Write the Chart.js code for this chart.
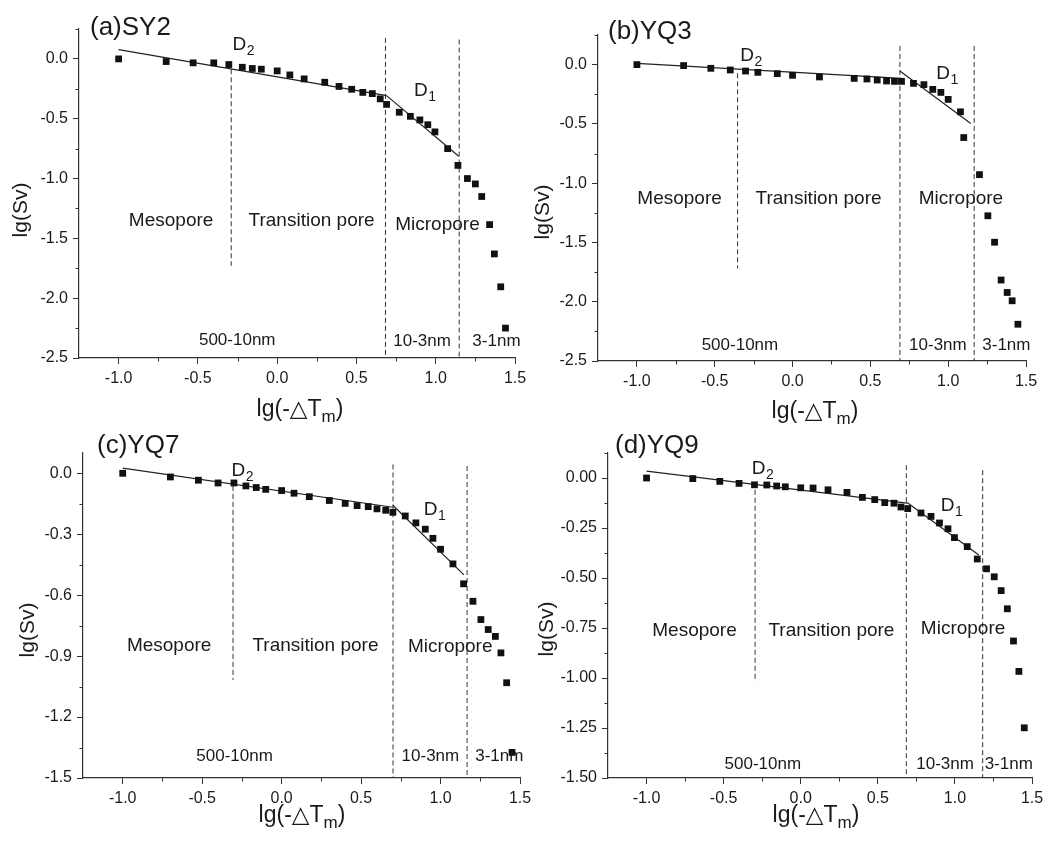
<!DOCTYPE html>
<html>
<head>
<meta charset="utf-8">
<script src="https://cdn.jsdelivr.net/npm/chart.js@4.4.1/dist/chart.umd.min.js"></script>
<style>
  html, body { margin:0; padding:0; background:#fff; }
  #wrap { position:relative; width:1055px; height:841px; background:#fff; }
  #wrap canvas { position:absolute; left:0; top:0; }
</style>
</head>
<body>
<div id="wrap">
  <canvas id="cA" width="1055" height="841"></canvas>
  <canvas id="cB" width="1055" height="841"></canvas>
  <canvas id="cC" width="1055" height="841"></canvas>
  <canvas id="cD" width="1055" height="841"></canvas>
</div>
<script>
// ---------------- DATA ----------------
const panelNames = ["(a)SY2", "(b)YQ3", "(c)YQ7", "(d)YQ9"];
const regionNames = ["Mesopore", "Transition pore", "Micropore"];
const sizeNames = ["500-10nm", "10-3nm", "3-1nm"];

const xTicks = [-1.0, -0.5, 0.0, 0.5, 1.0, 1.5];
const yTicksAB = [0.0, -0.5, -1.0, -1.5, -2.0, -2.5];
const yTicksC = [0.0, -0.3, -0.6, -0.9, -1.2, -1.5];
const yTicksD = [0.0, -0.25, -0.5, -0.75, -1.0, -1.25, -1.5];

// (a) SY2
const xA = [-1.0, -0.70, -0.53, -0.40, -0.305, -0.22, -0.157, -0.10, 0.0, 0.08, 0.17, 0.30, 0.39, 0.47, 0.54, 0.60, 0.65, 0.69, 0.77, 0.84, 0.90, 0.95, 0.995, 1.075, 1.14, 1.20, 1.25, 1.29, 1.34, 1.37, 1.41, 1.44];
const yA = [0.0, -0.022, -0.033, -0.033, -0.047, -0.07, -0.08, -0.086, -0.10, -0.134, -0.167, -0.195, -0.23, -0.254, -0.28, -0.29, -0.334, -0.38, -0.446, -0.48, -0.51, -0.55, -0.61, -0.75, -0.89, -1.00, -1.045, -1.15, -1.385, -1.63, -1.905, -2.25];
const fitA2 = [[-1.0, 0.078], [0.69, -0.307]];
const fitA1 = [[0.69, -0.307], [1.145, -0.814]];
const boundXA = [-0.29, 0.683, 1.148];
const boundTopA = [-0.02, 0.176, 0.162];
const boundBotA = [-1.73, -2.5, -2.5];

// (b) YQ3
const xB = [-1.0, -0.70, -0.525, -0.40, -0.302, -0.223, -0.098, 0.0, 0.173, 0.396, 0.478, 0.544, 0.604, 0.655, 0.70, 0.777, 0.844, 0.901, 0.953, 1.0, 1.079, 1.10, 1.201, 1.255, 1.298, 1.34, 1.379, 1.411, 1.448];
const yB = [0.0, -0.008, -0.031, -0.045, -0.054, -0.065, -0.076, -0.090, -0.104, -0.116, -0.121, -0.130, -0.138, -0.141, -0.141, -0.158, -0.169, -0.209, -0.234, -0.293, -0.398, -0.615, -0.928, -1.275, -1.498, -1.817, -1.922, -1.992, -2.19];
const fitB2 = [[-1.0, 0.011], [0.70, -0.116]];
const fitB1 = [[0.69, -0.054], [1.145, -0.497]];
const boundXB = [-0.353, 0.69, 1.167];
const boundTopB = [-0.073, 0.158, 0.158];
const boundBotB = [-1.72, -2.5, -2.5];

// (c) YQ7
const xC = [-1.0, -0.70, -0.524, -0.40, -0.30, -0.225, -0.16, -0.10, 0.0, 0.078, 0.174, 0.30, 0.40, 0.475, 0.545, 0.60, 0.655, 0.70, 0.778, 0.845, 0.904, 0.952, 1.0, 1.078, 1.145, 1.204, 1.254, 1.30, 1.345, 1.38, 1.416, 1.45];
const yC = [0.0, -0.018, -0.034, -0.0475, -0.0475, -0.062, -0.07, -0.079, -0.085, -0.098, -0.115, -0.134, -0.148, -0.159, -0.164, -0.175, -0.182, -0.192, -0.21, -0.244, -0.275, -0.32, -0.374, -0.446, -0.544, -0.63, -0.72, -0.769, -0.803, -0.884, -1.031, -1.374];
const fitC2 = [[-1.0, 0.026], [0.70, -0.167]];
const fitC1 = [[0.70, -0.157], [1.147, -0.50]];
const boundXC = [-0.306, 0.701, 1.167];
const boundTopC = [-0.062, 0.044, 0.036];
const boundBotC = [-1.017, -1.5, -1.5];

// (d) YQ9
const xD = [-1.0, -0.70, -0.525, -0.40, -0.30, -0.22, -0.156, -0.10, 0.0, 0.08, 0.177, 0.30, 0.40, 0.48, 0.545, 0.605, 0.65, 0.694, 0.78, 0.845, 0.90, 0.955, 0.997, 1.08, 1.145, 1.205, 1.255, 1.30, 1.34, 1.38, 1.415, 1.45];
const yD = [0.0, -0.003, -0.017, -0.027, -0.034, -0.035, -0.040, -0.044, -0.049, -0.050, -0.059, -0.072, -0.097, -0.108, -0.123, -0.126, -0.145, -0.153, -0.175, -0.192, -0.225, -0.254, -0.298, -0.343, -0.405, -0.454, -0.494, -0.563, -0.654, -0.815, -0.967, -1.249];
const fitD2 = [[-1.0, 0.034], [0.69, -0.126]];
const fitD1 = [[0.69, -0.123], [1.155, -0.385]];
const boundXD = [-0.296, 0.685, 1.18];
const boundTopD = [-0.059, 0.064, 0.039];
const boundBotD = [-1.02, -1.5, -1.5];

// ---------------- LAYOUT / STYLE ----------------
const FONT = '"Liberation Sans", Arial, "DejaVu Sans", sans-serif';
const W = 1055, H = 841, YW = 60, XH = 40;
const INK = '#1a1a1a';

const panels = [
  { id:'cA', name:panelNames[0], xs:xA, ys:yA, fit2:fitA2, fit1:fitA1, bx:boundXA, bt:boundTopA, bb:boundBotA,
    area:{L:79, T:29, R:515, B:358}, ymin:-2.5, ymax:0.25, yTicks:yTicksAB, yMinor:0.25, dec:1,
    title:{x:90, y:35}, ylab:{x:21, y:210}, xlab:{x:300, y:416},
    d2:[-0.282, 0.078], d1:[0.863, -0.313],
    reg:[[-0.669, -1.40], [0.217, -1.40], [1.011, -1.427]],
    sz:[[-0.252, -2.389], [0.914, -2.40], [1.383, -2.40]] },
  { id:'cB', name:panelNames[1], xs:xB, ys:yB, fit2:fitB2, fit1:fitB1, bx:boundXB, bt:boundTopB, bb:boundBotB,
    area:{L:598, T:35, R:1026, B:361}, ymin:-2.5, ymax:0.25, yTicks:yTicksAB, yMinor:0.25, dec:1,
    title:{x:608, y:39}, ylab:{x:543, y:212}, xlab:{x:815, y:418},
    d2:[-0.336, 0.03], d1:[0.923, -0.124],
    reg:[[-0.726, -1.174], [0.167, -1.174], [1.082, -1.174]],
    sz:[[-0.338, -2.41], [0.934, -2.41], [1.374, -2.41]] },
  { id:'cC', name:panelNames[2], xs:xC, ys:yC, fit2:fitC2, fit1:fitC1, bx:boundXC, bt:boundTopC, bb:boundBotC,
    area:{L:83, T:453, R:520, B:778}, ymin:-1.5, ymax:0.1, yTicks:yTicksC, yMinor:0.15, dec:1,
    title:{x:97, y:453}, ylab:{x:28, y:630}, xlab:{x:302, y:822},
    d2:[-0.315, -0.013], d1:[0.894, -0.205],
    reg:[[-0.708, -0.877], [0.213, -0.877], [1.061, -0.88]],
    sz:[[-0.296, -1.415], [0.936, -1.415], [1.37, -1.415]] },
  { id:'cD', name:panelNames[3], xs:xD, ys:yD, fit2:fitD2, fit1:fitD1, bx:boundXD, bt:boundTopD, bb:boundBotD,
    area:{L:608, T:453, R:1032, B:778}, ymin:-1.5, ymax:0.125, yTicks:yTicksD, yMinor:0.125, dec:2,
    title:{x:615, y:453}, ylab:{x:547, y:629}, xlab:{x:816, y:822},
    d2:[-0.318, 0.019], d1:[0.908, -0.163],
    reg:[[-0.689, -0.79], [0.199, -0.79], [1.053, -0.78]],
    sz:[[-0.246, -1.453], [0.936, -1.453], [1.349, -1.453]] }
];

function f(size) { return size + 'px ' + FONT; }

function makeTextPlugin(p) {
  return {
    id: 'texts_' + p.id,
    afterDraw(chart) {
      const ctx = chart.ctx, sx = chart.scales.x, sy = chart.scales.y, ca = chart.chartArea;
      ctx.save();
      // minor ticks
      ctx.strokeStyle = '#333'; ctx.lineWidth = 1;
      ctx.beginPath();
      for (let v = -0.75; v < 1.5; v += 0.5) {
        const px = Math.round(sx.getPixelForValue(v)) + 0.5;
        ctx.moveTo(px, ca.bottom); ctx.lineTo(px, ca.bottom + 3.5);
      }
      const ys = p.yTicks;
      for (let i = 0; i < ys.length - 1; i++) {
        const v = (ys[i] + ys[i + 1]) / 2;
        const py = Math.round(sy.getPixelForValue(v)) + 0.5;
        ctx.moveTo(ca.left, py); ctx.lineTo(ca.left - 3.5, py);
      }
      if (ys[0] + p.yMinor <= p.ymax + 1e-9) {
        const py = Math.round(sy.getPixelForValue(ys[0] + p.yMinor)) + 0.5;
        ctx.moveTo(ca.left, py); ctx.lineTo(ca.left - 3.5, py);
      }
      ctx.stroke();

      ctx.fillStyle = INK;
      ctx.textBaseline = 'alphabetic';
      // panel title
      ctx.textAlign = 'left';
      ctx.font = f(26);
      ctx.fillText(p.name, p.title.x, p.title.y);
      // D labels
      const dl = (pos, sub) => {
        const x = sx.getPixelForValue(pos[0]), y = sy.getPixelForValue(pos[1]);
        ctx.font = f(19); ctx.textAlign = 'left';
        ctx.fillText('D', x, y);
        const w = ctx.measureText('D').width;
        ctx.font = f(14);
        ctx.fillText(sub, x + w + 0.5, y + 5);
      };
      dl(p.d2, '2'); dl(p.d1, '1');
      // region labels
      ctx.textAlign = 'center';
      ctx.font = f(19);
      p.reg.forEach((r, i) => ctx.fillText(regionNames[i], sx.getPixelForValue(r[0]), sy.getPixelForValue(r[1])));
      ctx.font = f(17);
      p.sz.forEach((r, i) => ctx.fillText(sizeNames[i], sx.getPixelForValue(r[0]), sy.getPixelForValue(r[1])));
      // y axis title
      ctx.save();
      ctx.translate(p.ylab.x, p.ylab.y);
      ctx.rotate(-Math.PI / 2);
      ctx.font = f(21); ctx.textAlign = 'center'; ctx.textBaseline = 'middle';
      ctx.fillText('lg(Sv)', 0, 0);
      ctx.restore();
      // x axis title: lg(-△T_m)
      ctx.textAlign = 'left'; ctx.textBaseline = 'alphabetic';
      ctx.font = f(23); const a = 'lg(-\u25B3T'; const wa = ctx.measureText(a).width;
      const wc = ctx.measureText(')').width;
      ctx.font = f(17); const wm = ctx.measureText('m').width;
      let x0 = p.xlab.x - (wa + wm + wc) / 2;
      ctx.font = f(23); ctx.fillText(a, x0, p.xlab.y);
      ctx.font = f(17); ctx.fillText('m', x0 + wa, p.xlab.y + 6);
      ctx.font = f(23); ctx.fillText(')', x0 + wa + wm, p.xlab.y);
      ctx.restore();
    }
  };
}

function seg(a) { return a.map(q => ({x:q[0], y:q[1]})); }

panels.forEach(p => {
  const datasets = [];
  datasets.push({
    data: p.xs.map((x, i) => ({x:x, y:p.ys[i]})),
    showLine:false, pointStyle:'rect', pointRadius:4.8, pointBackgroundColor:'#111',
    pointBorderWidth:0, pointHoverRadius:4.8, order:0
  });
  [p.fit2, p.fit1].forEach(fl => datasets.push({
    data: seg(fl), showLine:true, pointRadius:0, borderColor:'#222', borderWidth:1.2, fill:false, order:1
  }));
  p.bx.forEach((bx, i) => datasets.push({
    data: [{x:bx, y:p.bt[i]}, {x:bx, y:p.bb[i]}], showLine:true, pointRadius:0,
    borderColor:'#333', borderWidth:1, borderDash:[5, 3], fill:false, order:2
  }));

  const a = p.area;
  new Chart(document.getElementById(p.id), {
    type:'scatter',
    data:{ datasets },
    options:{
      responsive:false, animation:false, events:[],
      layout:{ padding:{ left:a.L - YW, top:a.T, right:W - a.R, bottom:H - a.B - XH } },
      plugins:{ legend:{display:false}, tooltip:{enabled:false}, title:{display:false} },
      scales:{
        x:{
          type:'linear', min:-1.25, max:1.5,
          afterBuildTicks:(s) => { s.ticks = xTicks.map(v => ({value:v})); },
          afterFit:(s) => { s.height = XH; },
          ticks:{ font:{family:FONT, size:16}, color:INK, padding:5, maxRotation:0, autoSkip:false,
                  callback:(v) => Number(v).toFixed(1) },
          grid:{ drawOnChartArea:false, drawTicks:true, tickLength:6, color:'#333', lineWidth:1 },
          border:{ display:true, color:'#333', width:1.2 }
        },
        y:{
          type:'linear', min:p.ymin, max:p.ymax,
          afterBuildTicks:(s) => { s.ticks = p.yTicks.map(v => ({value:v})); },
          afterFit:(s) => { s.width = YW; },
          ticks:{ font:{family:FONT, size:16}, color:INK, padding:5, autoSkip:false,
                  callback:(v) => Number(v).toFixed(p.dec) },
          grid:{ drawOnChartArea:false, drawTicks:true, tickLength:6, color:'#333', lineWidth:1 },
          border:{ display:true, color:'#333', width:1.2 }
        }
      }
    },
    plugins:[ makeTextPlugin(p) ]
  });
});
</script>
</body>
</html>
